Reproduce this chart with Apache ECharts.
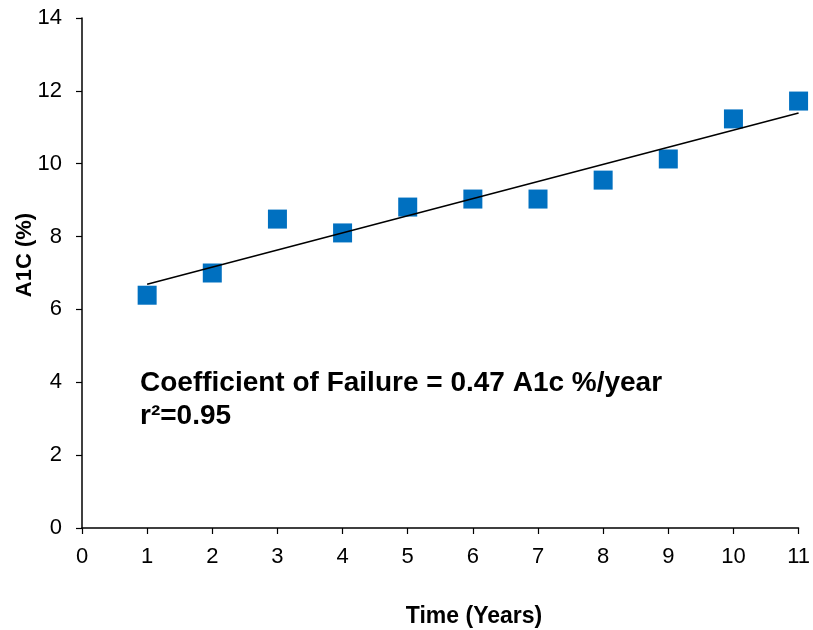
<!DOCTYPE html>
<html>
<head>
<meta charset="utf-8">
<script src="https://cdn.jsdelivr.net/npm/echarts@6/dist/echarts.min.js"></script>
<style>html,body{margin:0;padding:0;background:#fff}#c{width:813px;height:630px}</style>
</head>
<body>
<div id="c"></div>
<script>
var years = [1, 2, 3, 4, 5, 6, 7, 8, 9, 10, 11];
var a1c = [6.39, 7.00, 8.48, 8.10, 8.81, 9.03, 9.03, 9.55, 10.13, 11.23, 11.72];
var trendX = [1, 11];
var trendY = [6.69, 11.39];
var xTicks = [0, 1, 2, 3, 4, 5, 6, 7, 8, 9, 10, 11];
var yTicks = [0, 2, 4, 6, 8, 10, 12, 14];
var xTitle = 'Time (Years)';
var yTitle = 'A1C (%)';
var noteLine1 = 'Coefficient of Failure = 0.47 A1c %/year';
var noteLine2 = 'r\u00B2=0.95';

var FONT = 'Liberation Sans, Arial, sans-serif';
var chart = echarts.init(document.getElementById('c'));
chart.setOption({
  animation: false,
  backgroundColor: '#fff',
  grid: {left: 82, top: 18, right: 12, bottom: 102, containLabel: false},
  xAxis: {
    type: 'value', min: xTicks[0], max: xTicks[xTicks.length - 1], interval: 1,
    axisLine: {show: true, lineStyle: {color: '#000', width: 1.5}},
    axisTick: {show: true, length: 6, lineStyle: {color: '#000', width: 1.2}},
    axisLabel: {color: '#000', fontSize: 22, fontFamily: FONT, margin: 18},
    splitLine: {show: false}
  },
  yAxis: {
    type: 'value', min: yTicks[0], max: yTicks[yTicks.length - 1], interval: 2,
    axisLine: {show: true, lineStyle: {color: '#000', width: 1.5}},
    axisTick: {show: true, length: 6, lineStyle: {color: '#000', width: 1.2}},
    axisLabel: {color: '#000', fontSize: 22, fontFamily: FONT, margin: 20},
    splitLine: {show: false}
  },
  series: [
    {
      type: 'line',
      data: trendX.map(function (x, i) { return [x, trendY[i]]; }),
      symbol: 'none',
      lineStyle: {color: '#000', width: 1.5},
      z: 3
    },
    {
      type: 'scatter',
      data: years.map(function (x, i) { return [x, a1c[i]]; }),
      symbol: 'rect',
      symbolSize: 19,
      itemStyle: {color: '#0070C0', opacity: 1},
      z: 2
    }
  ],
  graphic: [
    {type: 'text', left: 140, top: 369, style: {text: noteLine1, fontSize: 28, fontWeight: 'bold', fontFamily: FONT, fill: '#000'}},
    {type: 'text', left: 140, top: 402, style: {text: noteLine2, fontSize: 28, fontWeight: 'bold', fontFamily: FONT, fill: '#000'}},
    {type: 'text', x: 474, y: 617, style: {text: xTitle, fontSize: 23, fontWeight: 'bold', fontFamily: FONT, fill: '#000', align: 'center', verticalAlign: 'middle'}},
    {type: 'text', x: 25, y: 255, rotation: Math.PI / 2, style: {text: yTitle, fontSize: 22, fontWeight: 'bold', fontFamily: FONT, fill: '#000', align: 'center', verticalAlign: 'middle'}}
  ]
});
</script>
</body>
</html>
